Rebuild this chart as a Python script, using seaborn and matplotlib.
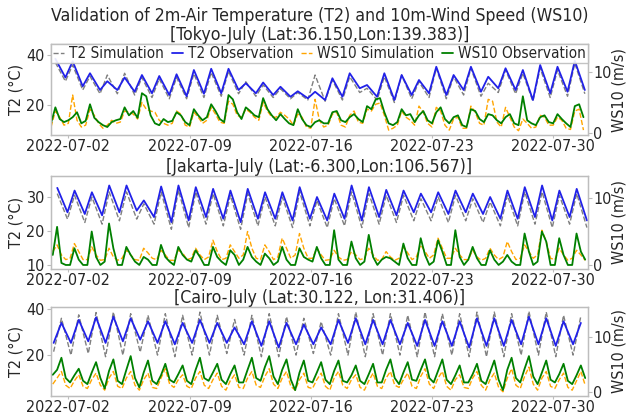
import numpy as np
import pandas as pd
import matplotlib
matplotlib.use("Agg")
import matplotlib.pyplot as plt
import matplotlib.dates as mdates
from matplotlib.ticker import MultipleLocator
from matplotlib.lines import Line2D
import seaborn as sns

sns.set_style("white")
plt.rcParams['font.family'] = ['DejaVu Sans']
plt.rcParams['font.stretch'] = 'condensed'

# ---------------- data (July 2022, UTC) ----------------
month_start = "2022-07-01"
tick_days = ["2022-07-02", "2022-07-09", "2022-07-16", "2022-07-23", "2022-07-30"]

main_title = "Validation of 2m-Air Temperature (T2) and 10m-Wind Speed (WS10)"
city_titles = ["[Tokyo-July (Lat:36.150,Lon:139.383)]",
               "[Jakarta-July (Lat:-6.300,Lon:106.567)]",
               "[Cairo-July (Lat:30.122, Lon:31.406)]"]
series_labels = ["T2 Simulation", "T2 Observation", "WS10 Simulation", "WS10 Observation"]

# ---- Tokyo: daily T2 maximum / minimum (deg C)
tokyo_t2_obs_max = [38.5, 37.5, 32.7, 29.5, 31.0, 32.0, 31.6, 32.3, 34.0, 34.5, 34.5, 28.7, 29.0, 27.3, 25.5,
                    25.3, 30.7, 32.7, 28.0, 32.7, 32.0, 30.0, 35.3, 32.0, 35.3, 31.3, 34.7, 34.0, 36.0, 35.3, 37.7]
tokyo_t2_obs_min = [31.0, 27.5, 26.0, 26.0, 25.3, 24.7, 24.0, 23.5, 24.5, 24.7, 26.0, 24.7, 24.0, 23.3, 22.7,
                    22.0, 23.3, 26.7, 23.3, 22.0, 24.0, 24.7, 24.0, 26.0, 25.3, 26.7, 26.0, 22.0, 24.7, 25.3, 26.0]
tokyo_t2_sim_max = [37.0, 36.0, 31.5, 32.0, 32.7, 31.0, 30.5, 31.0, 32.5, 33.0, 33.5, 29.3, 28.0, 26.5, 25.0,
                    32.0, 30.0, 31.3, 26.7, 31.3, 32.0, 29.3, 34.7, 31.3, 34.7, 28.7, 34.0, 32.7, 34.7, 34.0, 36.7]
tokyo_t2_sim_min = [29.5, 26.0, 24.5, 24.5, 24.0, 23.0, 22.5, 22.5, 23.0, 23.5, 24.5, 23.5, 23.0, 22.5, 22.0,
                    21.5, 22.0, 25.0, 22.0, 21.0, 22.5, 23.0, 22.5, 24.0, 23.5, 25.0, 24.5, 21.5, 23.0, 23.5, 24.5]
# ---- Tokyo: 6-hourly WS10 (m/s), one row per day
tokyo_ws_obs = [[1.6, 4.2, 2.3, 1.8], [2.1, 2.6, 3.4, 1.6], [2.0, 4.7, 2.5, 1.8], [1.3, 1.0, 1.8, 2.1],
                [2.3, 4.2, 2.9, 3.6], [2.5, 6.5, 6.0, 2.9], [1.6, 1.3, 2.3, 1.8], [2.0, 3.4, 2.9, 1.8],
                [1.3, 3.9, 2.9, 2.1], [2.6, 4.7, 3.6, 2.3], [1.8, 6.2, 5.5, 3.4], [2.3, 4.2, 3.6, 2.9],
                [2.6, 5.7, 3.9, 2.9], [2.1, 3.1, 2.3, 1.6], [1.3, 3.9, 2.3, 1.3], [1.0, 1.8, 2.1, 1.6],
                [1.6, 3.4, 3.6, 2.1], [1.8, 2.6, 3.1, 2.3], [1.8, 4.4, 3.9, 5.5], [5.7, 3.4, 1.6, 1.3],
                [1.8, 3.9, 2.9, 3.1], [1.8, 2.9, 3.6, 2.1], [1.6, 3.4, 4.2, 2.3], [1.6, 2.6, 2.9, 1.3],
                [1.0, 3.9, 3.6, 2.3], [1.8, 3.1, 2.9, 2.1], [1.6, 2.6, 3.1, 1.6], [1.3, 6.0, 2.1, 1.6],
                [1.3, 2.6, 2.9, 1.8], [1.6, 3.1, 2.3, 1.6], [1.0, 4.4, 4.7, 2.6]]
tokyo_ws_sim = [[1.0, 3.6, 2.6, 1.3], [1.6, 6.2, 2.1, 1.0], [1.3, 3.9, 2.9, 1.6], [0.8, 1.3, 2.1, 1.6],
                [1.8, 3.6, 3.4, 3.1], [2.3, 5.0, 3.9, 3.6], [3.4, 2.1, 1.6, 1.3], [1.6, 3.6, 3.1, 1.3],
                [1.0, 3.4, 2.6, 1.6], [2.1, 4.2, 3.1, 1.8], [1.6, 5.2, 4.7, 2.9], [2.6, 3.9, 3.4, 2.6],
                [2.1, 5.0, 3.6, 2.6], [2.6, 3.4, 2.9, 2.3], [1.3, 3.1, 2.6, 1.0], [0.8, 5.5, 2.1, 1.0],
                [1.3, 3.1, 3.4, 1.3], [1.0, 2.9, 3.6, 1.8], [1.6, 3.9, 3.6, 4.7], [4.9, 2.9, 0.5, 0.8],
                [1.3, 3.6, 2.6, 2.1], [1.3, 4.4, 3.4, 1.6], [1.0, 4.2, 3.6, 1.3], [0.5, 2.3, 2.6, 0.8],
                [0.8, 4.4, 3.4, 1.6], [1.3, 5.5, 5.2, 1.8], [1.0, 4.2, 2.6, 1.0], [0.4, 2.3, 1.6, 0.8],
                [1.0, 2.9, 2.6, 1.3], [1.3, 2.6, 2.1, 0.8], [0.6, 3.6, 3.9, 0.5]]

# ---- Jakarta
jakarta_t2_obs_max = [32.7, 31.9, 31.4, 33.4, 33.4, 29.0, 33.1, 33.4, 32.9, 32.4, 31.9, 32.4, 31.4, 31.4, 32.9,
                      30.0, 31.0, 33.4, 32.9, 32.1, 31.9, 31.0, 31.4, 31.9, 31.0, 30.0, 31.9, 32.9, 33.4, 31.9, 32.4]
jakarta_t2_obs_min = [25.5, 25.0, 24.6, 25.5, 26.0, 24.1, 22.6, 23.1, 24.1, 23.6, 22.6, 23.6, 23.6, 23.1, 23.6,
                      23.1, 23.6, 23.1, 24.1, 24.6, 25.5, 25.5, 25.0, 25.5, 25.0, 23.6, 23.6, 24.1, 23.1, 24.1, 23.1]
jakarta_t2_sim_max = [31.0, 30.5, 30.0, 31.5, 31.5, 28.0, 31.5, 32.0, 31.5, 31.0, 30.5, 31.0, 30.0, 30.0, 31.5,
                      29.0, 29.5, 31.5, 31.0, 30.5, 30.5, 29.5, 30.0, 30.5, 29.5, 28.5, 30.5, 31.5, 31.5, 30.5, 31.0]
jakarta_t2_sim_min = [23.5, 22.5, 22.0, 23.0, 23.5, 22.0, 20.5, 21.0, 22.0, 21.5, 20.5, 21.5, 21.5, 21.0, 21.5,
                      21.0, 21.5, 21.0, 22.0, 22.5, 23.0, 23.0, 22.5, 23.0, 22.5, 21.5, 21.5, 22.0, 21.0, 22.0, 21.0]
jakarta_ws_obs = [[1.5, 5.7, 0.3, 0.0], [0.0, 2.5, 0.8, 0.0], [0.0, 5.0, 1.2, 0.0], [0.5, 6.2, 2.5, 0.0],
                  [0.0, 2.7, 1.5, 0.5], [0.0, 1.2, 0.8, 0.0], [0.0, 3.0, 1.2, 0.5], [0.0, 2.7, 1.5, 0.8],
                  [0.5, 2.2, 1.2, 0.0], [0.0, 2.7, 1.2, 0.5], [0.0, 2.2, 1.5, 0.0], [0.8, 2.7, 1.2, 0.5],
                  [0.0, 1.7, 1.0, 0.0], [0.5, 2.7, 0.8, 0.0], [0.0, 2.5, 1.2, 0.8], [0.5, 2.7, 1.0, 0.0],
                  [0.0, 5.2, 0.8, 0.0], [0.0, 3.5, 1.0, 0.0], [0.5, 4.5, 1.2, 0.0], [0.8, 1.2, 1.0, 0.5],
                  [0.0, 3.2, 1.0, 0.0], [0.0, 4.0, 1.5, 0.0], [0.5, 3.7, 2.0, 0.0], [0.0, 5.2, 1.2, 0.0],
                  [0.8, 2.7, 1.0, 0.0], [0.0, 2.2, 0.8, 0.0], [0.5, 1.5, 0.5, 0.0], [0.0, 4.7, 2.0, 0.0],
                  [0.5, 5.0, 3.5, 0.0], [0.0, 4.0, 1.5, 0.0], [0.0, 4.7, 2.0, 0.8]]
jakarta_ws_sim = [[2.0, 3.0, 1.5, 0.8], [1.0, 3.2, 2.0, 0.8], [0.8, 2.7, 1.5, 0.7], [0.8, 2.5, 1.2, 0.7],
                  [1.0, 2.2, 1.5, 0.8], [0.7, 2.5, 1.8, 1.0], [0.8, 2.2, 1.5, 0.7], [0.7, 2.2, 1.8, 0.8],
                  [1.0, 2.5, 1.5, 0.8], [1.2, 3.7, 2.0, 0.8], [1.0, 3.0, 2.0, 1.0], [1.5, 5.0, 2.5, 1.0],
                  [0.8, 3.0, 2.0, 0.8], [1.2, 4.0, 2.5, 1.0], [1.5, 4.7, 2.5, 1.0], [1.0, 2.5, 1.5, 0.7],
                  [0.8, 2.2, 1.2, 0.7], [0.8, 2.0, 1.5, 0.8], [1.0, 2.5, 1.5, 0.7], [0.8, 2.0, 1.2, 0.7],
                  [1.0, 2.7, 1.8, 0.8], [1.2, 3.0, 2.0, 1.0], [1.5, 4.0, 2.5, 1.0], [1.0, 2.5, 1.5, 0.8],
                  [0.8, 2.2, 1.2, 0.7], [1.0, 2.5, 1.5, 0.8], [1.2, 3.5, 2.0, 0.8], [1.0, 3.0, 2.0, 1.0],
                  [1.5, 5.2, 3.5, 1.0], [0.8, 2.5, 1.5, 0.7], [1.0, 2.2, 1.5, 0.7]]

# ---- Cairo
cairo_t2_obs_max = [34.0, 35.3, 36.4, 36.7, 36.0, 34.7, 34.7, 34.0, 35.3, 34.0, 32.0, 34.7, 34.7, 34.0, 33.3,
                    32.0, 35.3, 36.0, 35.3, 35.3, 34.0, 35.3, 34.7, 34.7, 36.0, 36.0, 35.3, 36.7, 36.0, 34.7, 34.0]
cairo_t2_obs_min = [25.3, 25.3, 26.0, 25.3, 26.0, 26.7, 25.3, 24.7, 25.3, 25.3, 25.3, 24.7, 24.0, 23.3, 24.7,
                    24.7, 24.7, 25.3, 24.7, 24.7, 24.7, 24.0, 24.0, 24.0, 23.3, 24.0, 24.0, 24.7, 24.7, 24.0, 24.7]
cairo_t2_sim_max = [36.0, 37.5, 38.5, 38.7, 38.0, 37.3, 38.0, 37.3, 38.7, 37.3, 35.5, 37.3, 38.0, 36.7, 36.0,
                    34.5, 38.0, 38.7, 38.0, 38.0, 37.3, 38.7, 38.0, 38.0, 38.7, 38.7, 38.0, 39.0, 38.7, 37.3, 37.0]
cairo_t2_sim_min = [21.5, 20.0, 20.7, 19.3, 20.0, 21.3, 20.0, 19.3, 20.0, 20.0, 20.7, 20.0, 19.3, 19.3, 20.0,
                    20.7, 20.0, 20.0, 19.3, 20.0, 20.0, 19.3, 19.3, 20.0, 19.3, 19.3, 19.3, 20.0, 20.0, 19.3, 20.0]
cairo_ws_obs = [[3.1, 4.0, 6.2, 2.5], [1.7, 3.0, 4.2, 2.0], [1.4, 3.5, 5.4, 2.5], [0.6, 3.8, 5.9, 2.0],
                [1.4, 4.0, 6.5, 2.5], [0.8, 3.5, 5.7, 2.0], [1.4, 3.0, 5.1, 2.2], [1.7, 3.2, 4.8, 2.0],
                [1.4, 4.0, 6.2, 2.5], [2.0, 3.5, 5.1, 2.2], [1.4, 3.2, 4.8, 1.7], [1.7, 4.0, 6.2, 2.5],
                [2.0, 4.5, 6.5, 2.8], [1.4, 4.0, 5.9, 2.2], [0.3, 3.5, 5.7, 2.0], [1.7, 3.5, 5.4, 2.2],
                [1.4, 3.8, 5.7, 2.0], [1.7, 3.0, 4.8, 2.0], [1.4, 3.2, 5.1, 1.7], [1.7, 4.0, 5.9, 2.5],
                [1.4, 3.5, 5.4, 2.2], [2.0, 4.0, 5.9, 2.5], [1.7, 3.8, 5.9, 2.2], [1.4, 3.0, 4.8, 1.7],
                [1.7, 3.2, 5.1, 2.0], [1.4, 3.5, 5.7, 2.2], [0.3, 4.0, 6.2, 2.5], [1.7, 4.2, 6.5, 2.8],
                [1.4, 3.5, 5.7, 2.2], [1.7, 3.2, 5.1, 2.0], [1.4, 3.0, 4.8, 2.5]]
cairo_ws_sim = [[1.4, 2.5, 3.7, 1.2], [0.6, 2.0, 3.1, 1.0], [0.6, 2.2, 3.4, 1.2], [0.3, 2.5, 3.7, 1.0],
                [0.6, 2.5, 3.7, 1.2], [0.3, 2.2, 3.4, 0.8], [0.6, 2.5, 4.2, 1.4], [0.8, 2.2, 3.1, 1.0],
                [0.6, 2.5, 3.7, 1.2], [0.6, 2.2, 3.4, 1.0], [0.3, 2.0, 3.1, 0.8], [0.6, 2.5, 3.7, 1.2],
                [0.8, 2.8, 4.2, 1.4], [0.6, 2.5, 3.7, 1.0], [0.3, 2.2, 3.4, 0.8], [0.6, 2.2, 3.4, 1.0],
                [0.3, 2.5, 3.7, 1.2], [0.6, 2.2, 3.1, 0.8], [0.3, 2.0, 3.4, 1.0], [0.6, 2.5, 3.7, 1.2],
                [0.8, 2.2, 3.4, 1.0], [0.6, 2.8, 4.2, 1.4], [0.6, 2.5, 3.7, 1.0], [0.3, 2.2, 3.1, 0.8],
                [0.6, 2.5, 3.7, 1.2], [0.3, 2.2, 3.4, 0.8], [0.0, 2.5, 4.2, 1.2], [0.6, 2.8, 4.5, 1.4],
                [0.3, 2.5, 3.7, 1.0], [0.6, 2.2, 3.4, 0.8], [0.3, 2.0, 3.7, 1.2]]

# time of day (fraction of a day, UTC) of the daily T2 peak / trough and of the wind samples
t2_peak_frac = [0.25, 0.36, 0.60]
t2_trough_frac = [0.83, 0.95, 0.15]
ws_offsets = [[0.0, 0.25, 0.5, 0.75], [0.1, 0.35, 0.6, 0.85], [0.1, 0.35, 0.6, 0.85]]

# ---------------- helpers ----------------
start = pd.Timestamp(month_start)


def t2_frame(tmax, tmin, peak_frac, trough_frac):
    rows = []
    for d in range(len(tmax)):
        rows.append((start + pd.Timedelta(days=d + peak_frac), tmax[d]))
        rows.append((start + pd.Timedelta(days=d + trough_frac), tmin[d]))
    return pd.DataFrame(rows, columns=["time", "value"]).sort_values("time").reset_index(drop=True)


def ws_frame(values, offsets):
    rows = []
    for d, day in enumerate(values):
        for k, v in enumerate(day):
            rows.append((start + pd.Timedelta(days=d + offsets[k]), v))
    return pd.DataFrame(rows, columns=["time", "value"]).sort_values("time").reset_index(drop=True)


cities = [
    (tokyo_t2_sim_max, tokyo_t2_sim_min, tokyo_t2_obs_max, tokyo_t2_obs_min, tokyo_ws_sim, tokyo_ws_obs),
    (jakarta_t2_sim_max, jakarta_t2_sim_min, jakarta_t2_obs_max, jakarta_t2_obs_min, jakarta_ws_sim, jakarta_ws_obs),
    (cairo_t2_sim_max, cairo_t2_sim_min, cairo_t2_obs_max, cairo_t2_obs_min, cairo_ws_sim, cairo_ws_obs),
]

# ---------------- figure ----------------
fig = plt.figure(figsize=(6.3, 4.18), dpi=100)
positions = [(0.081, 0.677, 0.852, 0.2177), (0.081, 0.3565, 0.852, 0.2225), (0.081, 0.0535, 0.852, 0.2115)]
t2_limits = [(8, 44.4), (8.8, 36.2), (2.4, 40.8)]
ws_limits = [(-0.3, 14.5), (-0.6, 13.3), (-0.7, 15.4)]
t2_steps = [20, 10, 20]

c_t2_sim, c_t2_obs, c_ws_sim, c_ws_obs = "gray", "#2121e8", "orange", "green"
spine_c = "#bdbdbd"
fs = 11.5
title_fs = 12.7

for i, (t2smax, t2smin, t2omax, t2omin, wss, wso) in enumerate(cities):
    ax = fig.add_axes(positions[i])
    ax2 = ax.twinx()
    sim_t2 = t2_frame(t2smax, t2smin, t2_peak_frac[i], t2_trough_frac[i])
    obs_t2 = t2_frame(t2omax, t2omin, t2_peak_frac[i], t2_trough_frac[i])
    sim_ws = ws_frame(wss, ws_offsets[i])
    obs_ws = ws_frame(wso, ws_offsets[i])

    sns.lineplot(data=sim_t2, x="time", y="value", ax=ax, color=c_t2_sim, linestyle="--",
                 linewidth=1.0, estimator=None, legend=False)
    sns.lineplot(data=obs_t2, x="time", y="value", ax=ax, color=c_t2_obs,
                 linewidth=1.3, estimator=None, legend=False)
    sns.lineplot(data=sim_ws, x="time", y="value", ax=ax2, color=c_ws_sim, linestyle="--",
                 linewidth=1.0, estimator=None, legend=False)
    sns.lineplot(data=obs_ws, x="time", y="value", ax=ax2, color=c_ws_obs,
                 linewidth=1.3, estimator=None, legend=False)

    ax.set_xlim(start, start + pd.Timedelta(days=31))
    ax.set_ylim(*t2_limits[i])
    ax2.set_ylim(*ws_limits[i])
    ax.yaxis.set_major_locator(MultipleLocator(t2_steps[i]))
    ax2.yaxis.set_major_locator(MultipleLocator(10))
    ax.set_xticks(pd.to_datetime(tick_days))
    ax.xaxis.set_major_formatter(mdates.DateFormatter("%Y-%m-%d"))

    ax.set_xlabel("")
    ax2.set_xlabel("")
    ax.set_ylabel("T2 (°C)", fontsize=fs, labelpad=2)
    ax2.set_ylabel("WS10 (m/s)", fontsize=fs, labelpad=0)

    ax.tick_params(axis="both", bottom=True, left=True, length=3, width=0.8, color=spine_c,
                   labelsize=fs, pad=1.5)
    ax.tick_params(axis="x", length=2.5, pad=0.5)
    ax2.tick_params(axis="y", right=True, length=3, width=0.8, color=spine_c, labelsize=fs, pad=1.0)
    for a in (ax, ax2):
        for s in a.spines.values():
            s.set_color(spine_c)
            s.set_linewidth(0.9)
    ax.grid(False)
    ax2.grid(False)

    if i == 0:
        ax.set_title(main_title + "\n" + city_titles[i], fontsize=title_fs, pad=0.5, linespacing=1.1)
        handles = [Line2D([], [], color=c_t2_sim, linestyle="--", linewidth=1.0),
                   Line2D([], [], color=c_t2_obs, linewidth=1.3),
                   Line2D([], [], color=c_ws_sim, linestyle="--", linewidth=1.0),
                   Line2D([], [], color=c_ws_obs, linewidth=1.3)]
        ax2.legend(handles, series_labels, loc="upper left", bbox_to_anchor=(0, 0, 1, 1), mode="expand",
                   ncol=4, borderaxespad=0, fontsize=11, handlelength=0.75, handletextpad=0.3,
                   columnspacing=0.5, borderpad=0.12, frameon=True, edgecolor=spine_c, fancybox=False,
                   framealpha=0.9)
    else:
        ax.set_title(city_titles[i], fontsize=title_fs, pad=1.5)

fig.savefig("out.png", dpi=100)
